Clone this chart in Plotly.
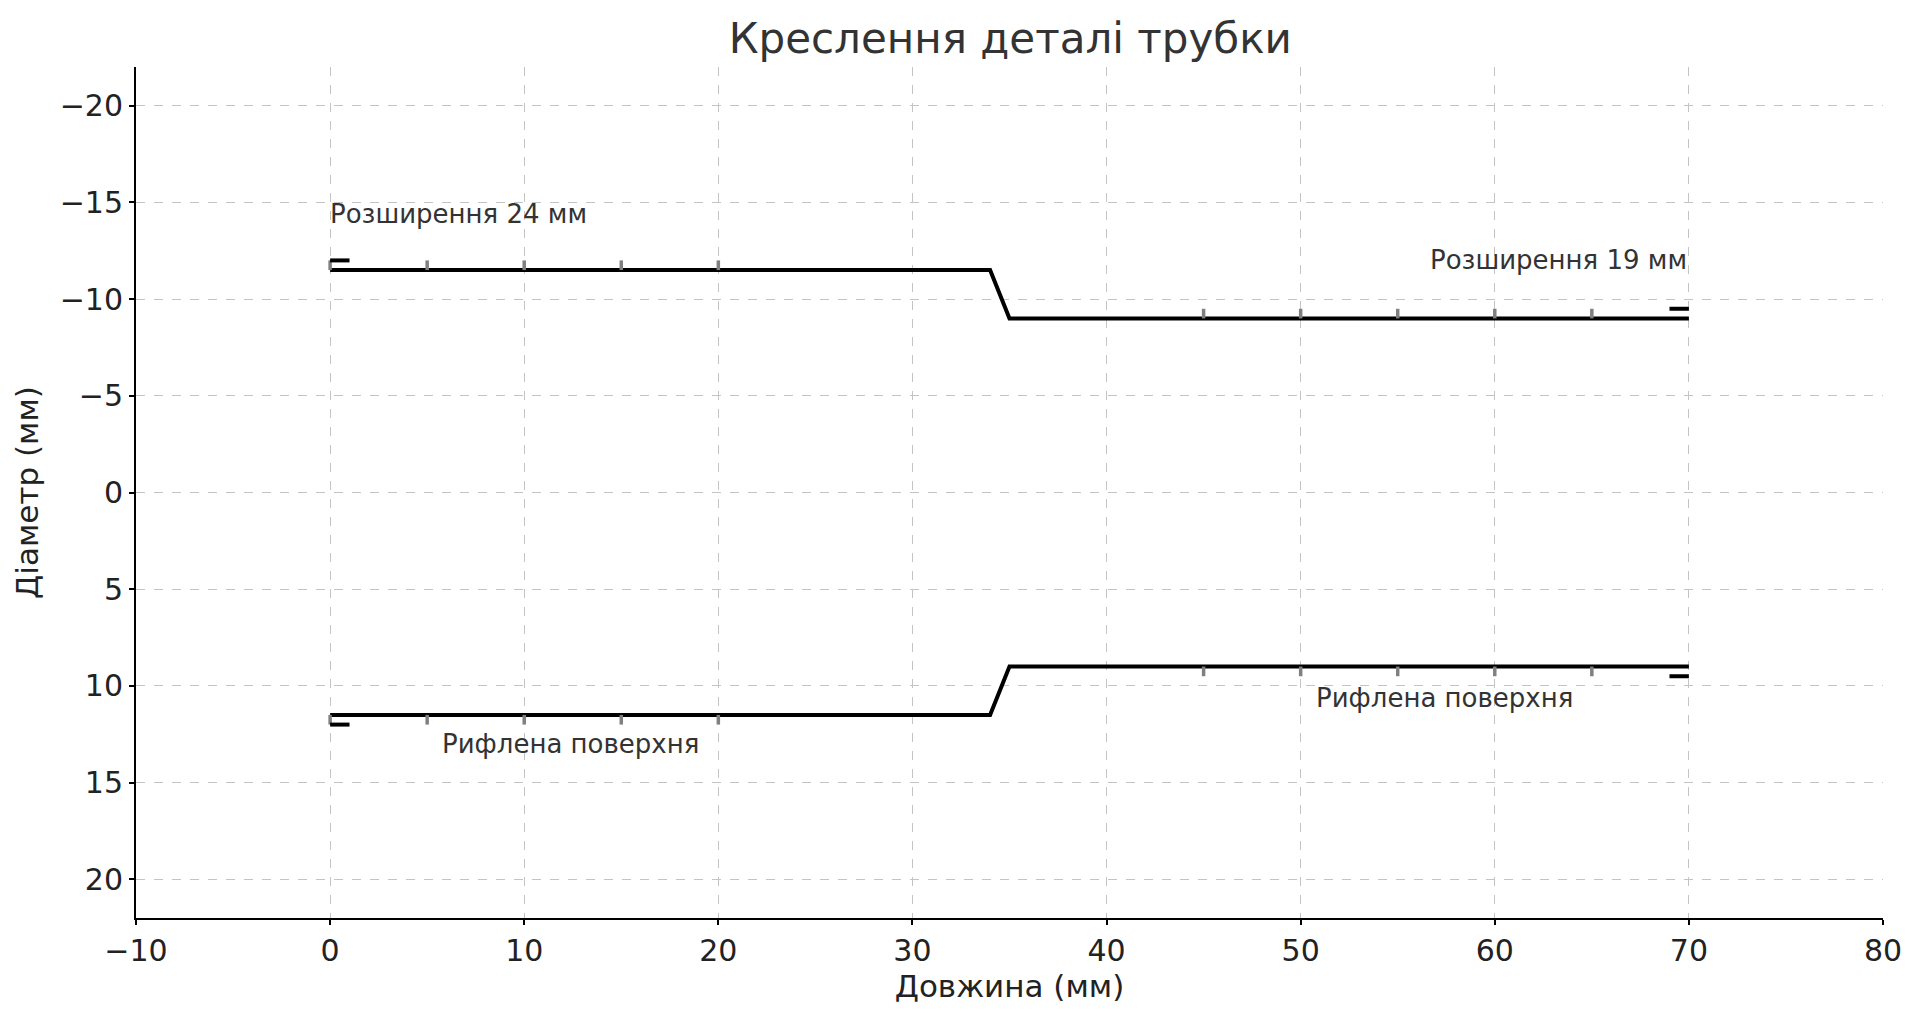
import plotly.graph_objects as go

# профіль трубки (мм)
length = [0, 34, 35, 70]
top_profile = [-11.5, -11.5, -9, -9]
bottom_profile = [11.5, 11.5, 9, 9]

# рифлення
ribs_left = [0, 5, 10, 15, 20]
ribs_right = [45, 50, 55, 60, 65]
rib_depth = 0.5

# позначки розширення
flare_left_x = [0, 1]
flare_left_y = 12
flare_right_x = [69, 70]
flare_right_y = 9.5

font = "DejaVu Sans"

fig = go.Figure()

fig.add_trace(go.Scatter(x=length, y=top_profile, mode='lines',
                         line=dict(color='black', width=4), hoverinfo='skip'))
fig.add_trace(go.Scatter(x=length, y=bottom_profile, mode='lines',
                         line=dict(color='black', width=4), hoverinfo='skip'))

# сірі риски рифлення
rx, ry = [], []
for xs, r in [(ribs_left, top_profile[0]), (ribs_right, top_profile[-1])]:
    for x in xs:
        rx += [x, x, None]
        ry += [r, r - rib_depth, None]
        rx += [x, x, None]
        ry += [-r, -r + rib_depth, None]
fig.add_trace(go.Scatter(x=rx, y=ry, mode='lines',
                         line=dict(color='#808080', width=3.5), hoverinfo='skip'))

# чорні позначки розширення
fx, fy = [], []
for xs, yv in [(flare_left_x, flare_left_y), (flare_right_x, flare_right_y)]:
    fx += xs + [None] + xs + [None]
    fy += [-yv, -yv, None, yv, yv, None]
fig.add_trace(go.Scatter(x=fx, y=fy, mode='lines',
                         line=dict(color='black', width=4), hoverinfo='skip'))

ann_font = dict(family=font, size=26, color='#333333')
fig.add_annotation(x=-0.1, y=-14.4, text="Розширення 24 мм", showarrow=False,
                   xanchor='left', yanchor='middle', font=ann_font)
fig.add_annotation(x=70, y=-12.0, text="Розширення 19 мм", showarrow=False,
                   xanchor='right', yanchor='middle', font=ann_font)
fig.add_annotation(x=5.65, y=13.0, text="Рифлена поверхня", showarrow=False,
                   xanchor='left', yanchor='middle', font=ann_font)
fig.add_annotation(x=50.7, y=10.6, text="Рифлена поверхня", showarrow=False,
                   xanchor='left', yanchor='middle', font=ann_font)

axis_common = dict(showgrid=True, gridcolor='#c4c4c4', griddash='dash', gridwidth=1.2,
                   showline=True, linecolor='black', linewidth=2,
                   ticks='outside', ticklen=5, tickwidth=2, tickcolor='black',
                   zeroline=False, mirror=False,
                   tickfont=dict(family=font, size=30, color='#222222'))

fig.update_xaxes(range=[-10, 80], dtick=10, tick0=0,
                 title=dict(text="Довжина (мм)", font=dict(family=font, size=31, color='#222222'),
                            standoff=7),
                 **axis_common)
fig.update_yaxes(range=[22, -22], tickvals=[-20, -15, -10, -5, 0, 5, 10, 15, 20],
                 title=dict(text="Діаметр (мм)", font=dict(family=font, size=31, color='#222222'),
                            standoff=12),
                 **axis_common)

fig.update_layout(
    width=1920, height=1020,
    title=dict(text="Креслення деталі трубки", x=0.522, xanchor='center', y=0.970, yanchor='middle',
               font=dict(family=font, size=42, color='#333333')),
    plot_bgcolor='white', paper_bgcolor='white',
    showlegend=False,
    margin=dict(l=128, r=45, t=59, b=110),
)

fig.write_html("out.html")
